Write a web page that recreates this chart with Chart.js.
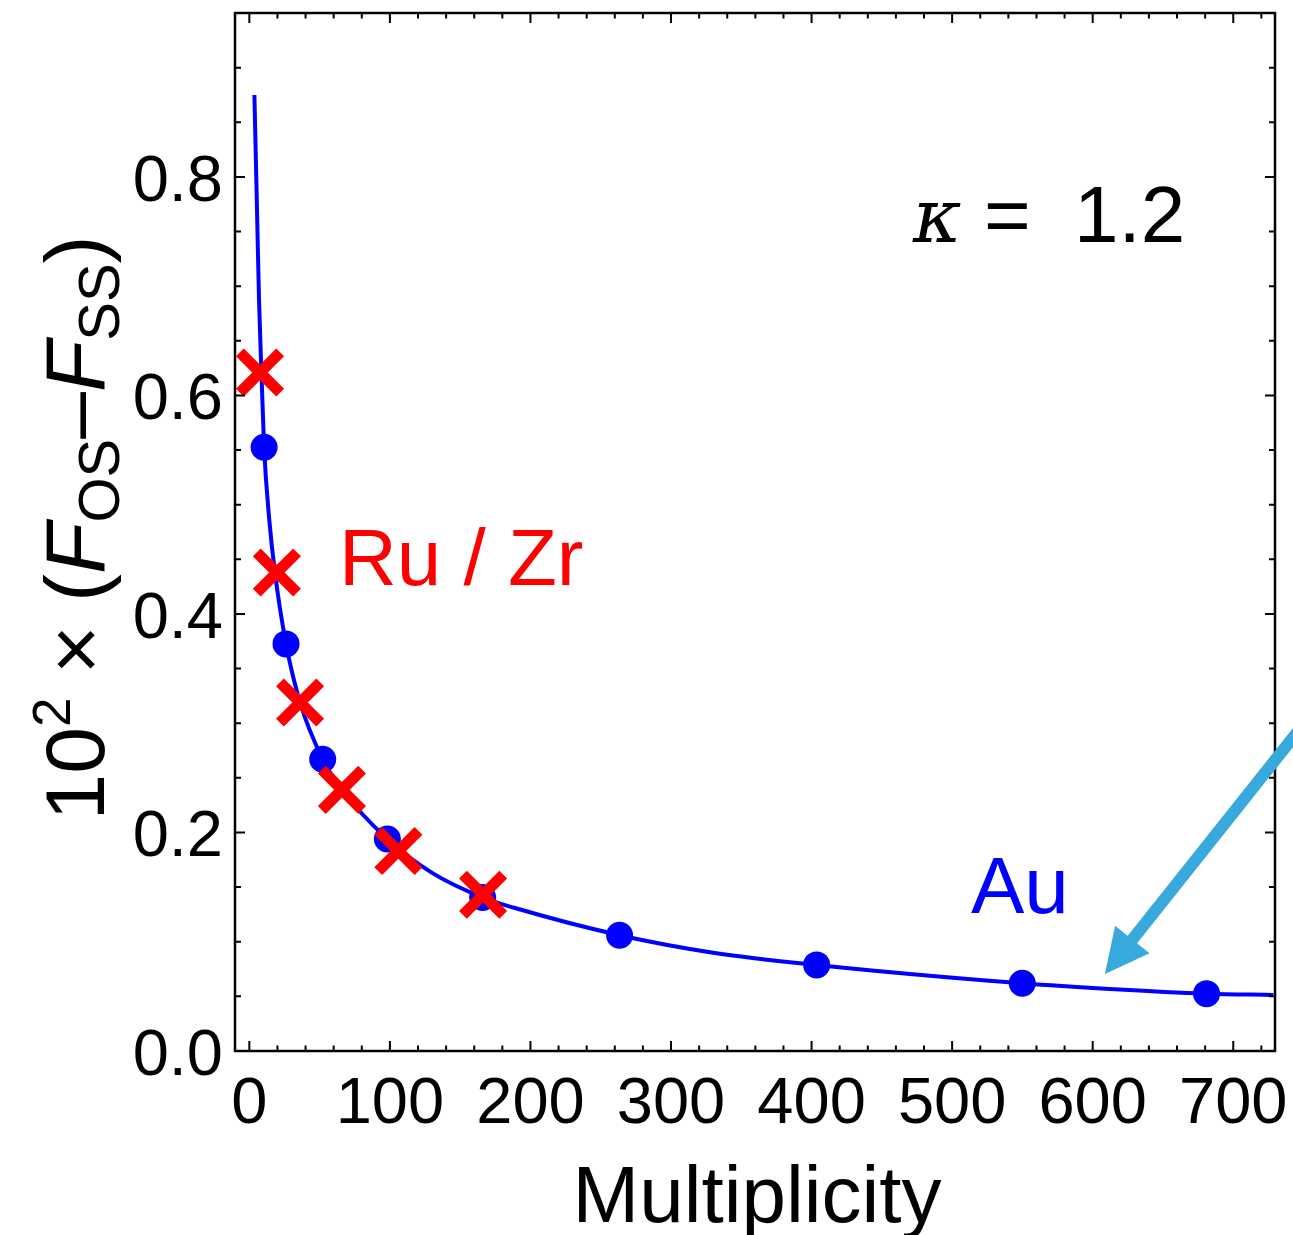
<!DOCTYPE html>
<html>
<head>
<meta charset="utf-8">
<script src="https://cdn.jsdelivr.net/npm/chart.js@4.4.1/dist/chart.umd.min.js"></script>
<style>
  html, body { margin: 0; padding: 0; background: #fff; }
  canvas { display: block; }
</style>
</head>
<body>
<canvas id="chart" width="1293" height="1235"></canvas>
<script>
// fitted curve
const curveX = [3.6, 5.3, 6.9, 8.8, 10.5, 14.2, 18.3, 26.1, 36.1, 52.2, 66, 98.2, 130, 166, 187.8, 263.4, 330, 403.6, 549.9, 612, 681, 728.5];
const curveY = [0.875, 0.779, 0.687, 0.614, 0.5525, 0.486, 0.437, 0.3726, 0.319, 0.267, 0.239, 0.194, 0.163, 0.1405, 0.1313, 0.106, 0.090, 0.0788, 0.062, 0.0568, 0.0525, 0.0513];

// Au points (blue dots)
const auX = [10.5, 26.1, 52.2, 98.2, 166, 263.4, 403.6, 549.9, 681];
const auY = [0.5525, 0.3726, 0.267, 0.194, 0.1405, 0.106, 0.0788, 0.062, 0.0525];

// Ru / Zr points (red crosses)
const ruX = [7.6, 19.6, 36.1, 65.9, 106, 166.3];
const ruY = [0.621, 0.438, 0.319, 0.239, 0.183, 0.143];

const xTicks = [0, 100, 200, 300, 400, 500, 600, 700];
const yTicks = [0.0, 0.2, 0.4, 0.6, 0.8];

const xTitle = "Multiplicity";
const kappaLabel = "\u03ba";
const kappaValue = "1.2";
const ruLabel = "Ru / Zr";
const auLabel = "Au";

const SANS = "'Liberation Sans', Arial, sans-serif";

function pts(xs, ys) {
    return xs.map((x, i) => ({ x: x, y: ys[i] }));
}

const decorations = {
    id: "decorations",
    afterDraw(chart) {
        const ctx = chart.ctx;
        const a = chart.chartArea;
        const xs = chart.scales.x, ys = chart.scales.y;
        ctx.save();

        // frame
        ctx.strokeStyle = "#000";
        ctx.lineWidth = 2.5;
        ctx.strokeRect(a.left, a.top, a.right - a.left, a.bottom - a.top);

        // inward ticks on all four sides
        ctx.lineWidth = 2;
        ctx.beginPath();
        for (let v = 0; v <= 720; v += 20) {
            const px = xs.getPixelForValue(v);
            if (px < a.left || px > a.right) continue;
            const len = v % 100 === 0 ? 10 : 5.5;
            ctx.moveTo(px, a.bottom); ctx.lineTo(px, a.bottom - len);
            ctx.moveTo(px, a.top); ctx.lineTo(px, a.top + len);
        }
        for (let k = 0; k <= 19; k++) {
            const v = k * 0.05;
            const py = ys.getPixelForValue(v);
            if (py < a.top || py > a.bottom) continue;
            const len = k % 4 === 0 ? 10 : 6;
            ctx.moveTo(a.left, py); ctx.lineTo(a.left + len, py);
            ctx.moveTo(a.right, py); ctx.lineTo(a.right - len, py);
        }
        ctx.stroke();

        // tick labels
        ctx.fillStyle = "#000";
        ctx.font = "65px " + SANS;
        ctx.textBaseline = "alphabetic";
        ctx.textAlign = "right";
        yTicks.forEach(v => ctx.fillText(v.toFixed(1), a.left - 12, ys.getPixelForValue(v) + 24));
        ctx.textAlign = "center";
        xTicks.forEach(v => ctx.fillText(String(v), xs.getPixelForValue(v), 1123));

        // arrow
        const sx = xs.getPixelForValue(742.5), sy = ys.getPixelForValue(0.2868);
        const tx = xs.getPixelForValue(608.7), ty = ys.getPixelForValue(0.0705);
        const dx = tx - sx, dy = ty - sy;
        const L = Math.hypot(dx, dy);
        const ux = dx / L, uy = dy / L;
        const headLen = 44, headHalf = 22;
        const bx = tx - ux * headLen, by = ty - uy * headLen;
        ctx.strokeStyle = "#38a9dc";
        ctx.fillStyle = "#38a9dc";
        ctx.lineWidth = 12;
        ctx.beginPath();
        ctx.moveTo(sx - ux * 20, sy - uy * 20);
        ctx.lineTo(bx + ux * 4, by + uy * 4);
        ctx.stroke();
        ctx.beginPath();
        ctx.moveTo(tx, ty);
        ctx.lineTo(bx - uy * headHalf, by + ux * headHalf);
        ctx.lineTo(bx + uy * headHalf, by - ux * headHalf);
        ctx.closePath();
        ctx.fill();

        // labels inside the plot
        ctx.textAlign = "left";
        ctx.fillStyle = "#ff0000";
        ctx.font = "80px " + SANS;
        ctx.fillText(ruLabel, 339, 585);
        ctx.fillStyle = "#0000ff";
        ctx.fillText(auLabel, 971, 913);

        ctx.fillStyle = "#000";
        ctx.font = "italic 74px 'DejaVu Serif', serif";
        ctx.fillText(kappaLabel, 913, 242);
        ctx.font = "80px " + SANS;
        ctx.fillText("=", 984, 242);
        ctx.fillText(kappaValue, 1074, 242);

        // x title
        ctx.textAlign = "center";
        ctx.fillText(xTitle, 757, 1222);

        // y title: 10^2 x (F_OS - F_SS)
        const segs = [
            ["10", "84px " + SANS, 0],
            ["2", "53px " + SANS, -34],
            [" \u00d7 (", "84px " + SANS, 0],
            ["F", "italic 84px " + SANS, 0],
            ["OS", "58px " + SANS, 15],
            ["\u2013", "84px " + SANS, 0],
            ["F", "italic 84px " + SANS, 0],
            ["SS", "58px " + SANS, 15],
            [")", "84px " + SANS, 0]
        ];
        let total = 0;
        const widths = segs.map(s => { ctx.font = s[1]; const w = ctx.measureText(s[0]).width; total += w; return w; });
        ctx.translate(104, 528);
        ctx.rotate(-Math.PI / 2);
        ctx.textAlign = "left";
        let cx = -total / 2;
        segs.forEach((s, i) => {
            ctx.font = s[1];
            ctx.fillText(s[0], cx, s[2]);
            cx += widths[i];
        });
        ctx.restore();
    }
};

new Chart(document.getElementById("chart").getContext("2d"), {
    type: "scatter",
    data: {
        datasets: [
            {
                label: "Ru / Zr",
                data: pts(ruX, ruY),
                pointStyle: "crossRot",
                pointRadius: 28.5,
                borderColor: "#ff0000",
                backgroundColor: "#ff0000",
                borderWidth: 11,
                showLine: false,
                clip: false,
                order: 0
            },
            {
                label: "Au",
                data: pts(auX, auY),
                pointStyle: "circle",
                pointRadius: 13.5,
                backgroundColor: "#0000ff",
                borderWidth: 0,
                showLine: false,
                clip: false,
                order: 1
            },
            {
                label: "fit",
                type: "line",
                data: pts(curveX, curveY),
                borderColor: "#0000ff",
                borderWidth: 4,
                pointRadius: 0,
                fill: false,
                cubicInterpolationMode: "monotone",
                order: 2
            }
        ]
    },
    options: {
        responsive: false,
        animation: false,
        layout: { autoPadding: false, padding: { top: 13, right: 18, left: 0, bottom: 0 } },
        plugins: { legend: { display: false }, tooltip: { enabled: false } },
        scales: {
            x: {
                type: "linear",
                min: -10.2,
                max: 729.7,
                grid: { display: false, drawTicks: false },
                border: { display: false },
                ticks: { display: false },
                afterFit: (s) => { s.height = 184; }
            },
            y: {
                type: "linear",
                min: 0,
                max: 0.95,
                grid: { display: false, drawTicks: false },
                border: { display: false },
                ticks: { display: false },
                afterFit: (s) => { s.width = 235; }
            }
        }
    },
    plugins: [decorations]
});
</script>
</body>
</html>
